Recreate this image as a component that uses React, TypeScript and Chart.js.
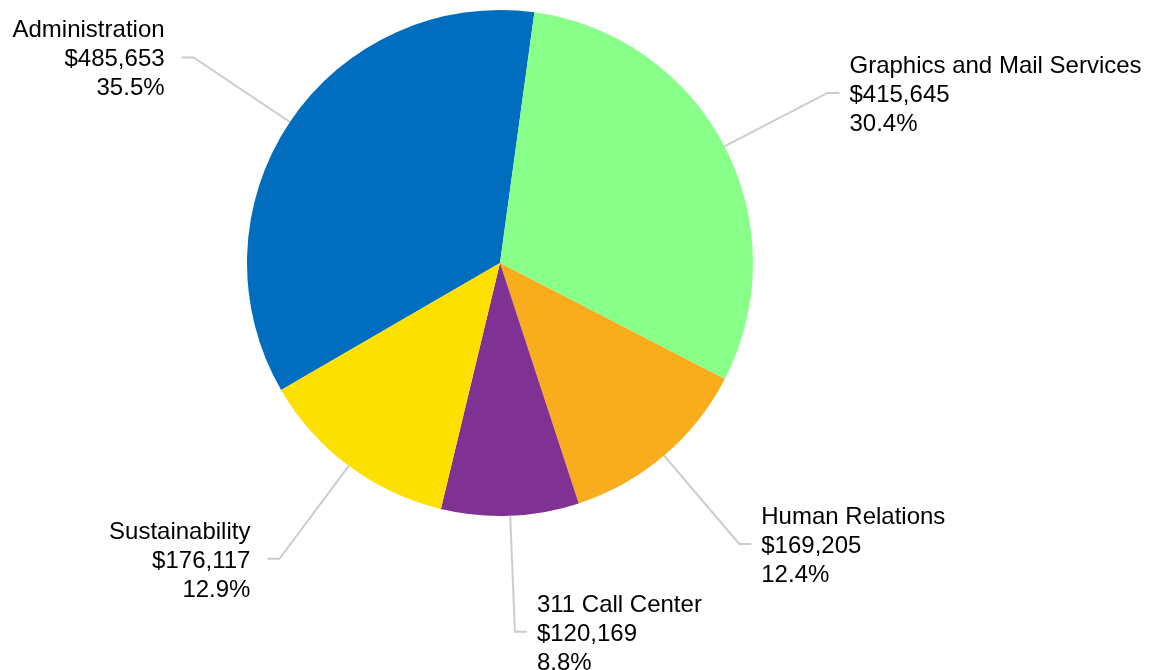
import React, { useEffect, useRef } from "react";
import { Chart, registerables } from "chart.js";

Chart.register(...registerables);

const categories = [
  "Administration",
  "Graphics and Mail Services",
  "Human Relations",
  "311 Call Center",
  "Sustainability",
];
const amounts = [485653, 415645, 169205, 120169, 176117];
const sliceColors = ["#006DBE", "#88FF88", "#FAAD1C", "#7F3294", "#FCE100"];

const FONT = '24px "Liberation Sans", Arial, sans-serif';

const outerLabels = {
  id: "outerLabels",
  afterDatasetsDraw(chart: any) {
    const ctx = chart.ctx;
    const meta = chart.getDatasetMeta(0);
    const data = chart.data.datasets[0].data as number[];
    const total = data.reduce((a, b) => a + b, 0);
    ctx.save();
    meta.data.forEach((arc: any, i: number) => {
      const { x, y, startAngle, endAngle, outerRadius } = arc.getProps(
        ["x", "y", "startAngle", "endAngle", "outerRadius"],
        true
      );
      const mid = (startAngle + endAngle) / 2;
      const cos = Math.cos(mid);
      const sin = Math.sin(mid);
      const sx = x + cos * outerRadius;
      const sy = y + sin * outerRadius;
      const ex = x + cos * (outerRadius + 116);
      const ey = y + sin * (outerRadius + 116);
      const right = cos >= 0;
      const hx = ex + (right ? 12 : -12);
      ctx.beginPath();
      ctx.moveTo(sx, sy);
      ctx.lineTo(ex, ey);
      ctx.lineTo(hx, ey);
      ctx.strokeStyle = "#cccccc";
      ctx.lineWidth = 2;
      ctx.stroke();

      const tx = right ? hx + 10 : hx - 17;
      ctx.font = FONT;
      ctx.fillStyle = "#000000";
      ctx.textAlign = right ? "left" : "right";
      ctx.textBaseline = "alphabetic";
      const lines = [
        chart.data.labels[i] as string,
        "$" + data[i].toLocaleString("en-US"),
        ((data[i] / total) * 100).toFixed(1) + "%",
      ];
      lines.forEach((t, k) => {
        ctx.fillText(t, tx, ey + 9 + (k - 1) * 29);
      });
    });
    ctx.restore();
  },
};

export default function App() {
  const canvasRef = useRef<HTMLCanvasElement>(null);
  useEffect(() => {
    if (!canvasRef.current) return;
    const chart = new Chart(canvasRef.current, {
      type: "pie",
      data: {
        labels: categories,
        datasets: [
          {
            data: amounts,
            backgroundColor: sliceColors,
            borderWidth: 0,
          },
        ],
      },
      options: {
        animation: false,
        responsive: true,
        maintainAspectRatio: false,
        rotation: -120.1,
        layout: { padding: { left: 247, right: 402, top: 10, bottom: 154 } },
        plugins: {
          legend: { display: false },
          tooltip: { enabled: false },
        },
      },
      plugins: [outerLabels],
    });
    return () => chart.destroy();
  }, []);
  return (
    <div
      style={{
        position: "fixed",
        left: 0,
        top: 0,
        width: 1155,
        height: 670,
        background: "#ffffff",
      }}
    >
      <canvas ref={canvasRef} />
    </div>
  );
}
